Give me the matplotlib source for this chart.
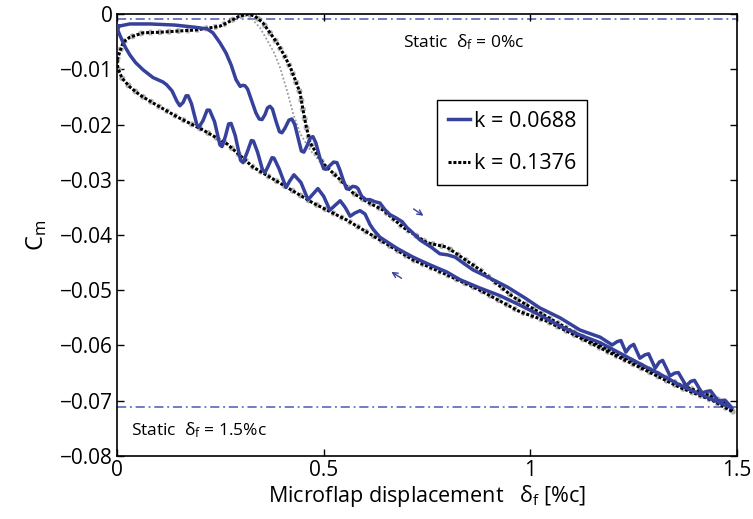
import matplotlib
matplotlib.use("Agg")
import matplotlib.pyplot as plt

plt.rcParams['font.family'] = ['Open Sans', 'DejaVu Sans']
plt.rcParams['mathtext.fontset'] = 'custom'
plt.rcParams['mathtext.rm'] = 'Open Sans'
plt.rcParams['mathtext.it'] = 'Open Sans'
plt.rcParams['axes.unicode_minus'] = True

# ---- k = 0.0688 : increasing deflection (upper branch) ----
k1_up_x = [0.004, 0.031, 0.080, 0.140, 0.189, 0.218, 0.232, 0.249, 0.264, 0.276, 0.288,
           0.298, 0.304, 0.310, 0.316, 0.322, 0.336, 0.344, 0.351, 0.358, 0.364, 0.370,
           0.376, 0.385, 0.393, 0.399, 0.406, 0.416, 0.423, 0.430, 0.438, 0.446, 0.452,
           0.460, 0.468, 0.474, 0.481, 0.491, 0.500, 0.506, 0.514, 0.524, 0.532, 0.539,
           0.547, 0.555, 0.561, 0.570, 0.578, 0.583, 0.592, 0.602, 0.612, 0.625, 0.636,
           0.648, 0.660, 0.675, 0.690, 0.702, 0.714, 0.733, 0.760, 0.781, 0.800, 0.818,
           0.840, 0.861, 0.902, 0.944, 0.987, 1.023, 1.072, 1.120, 1.169, 1.198, 1.210,
           1.219, 1.231, 1.241, 1.250, 1.265, 1.277, 1.286, 1.302, 1.312, 1.320, 1.338,
           1.349, 1.358, 1.377, 1.388, 1.397, 1.415, 1.427, 1.436, 1.454, 1.471, 1.488]
k1_up_y = [-0.0022, -0.0018, -0.0018, -0.0020, -0.0024, -0.0027, -0.0034, -0.0052, -0.0071,
           -0.0092, -0.0119, -0.0131, -0.0129, -0.0130, -0.0136, -0.0149, -0.0179, -0.0190,
           -0.0191, -0.0182, -0.0170, -0.0167, -0.0172, -0.0195, -0.0213, -0.0215, -0.0207,
           -0.0192, -0.0190, -0.0200, -0.0224, -0.0248, -0.0250, -0.0238, -0.0224, -0.0222,
           -0.0233, -0.0261, -0.0280, -0.0281, -0.0275, -0.0268, -0.0269, -0.0282, -0.0300,
           -0.0316, -0.0317, -0.0312, -0.0313, -0.0316, -0.0330, -0.0336, -0.0336, -0.0340,
           -0.0342, -0.0354, -0.0363, -0.0369, -0.0376, -0.0387, -0.0395, -0.0409, -0.0422,
           -0.0434, -0.0436, -0.0440, -0.0452, -0.0463, -0.0478, -0.0494, -0.0514, -0.0532,
           -0.0550, -0.0572, -0.0585, -0.0599, -0.0593, -0.0591, -0.0612, -0.0602, -0.0598,
           -0.0623, -0.0617, -0.0615, -0.0641, -0.0630, -0.0627, -0.0655, -0.0650, -0.0649,
           -0.0673, -0.0665, -0.0663, -0.0686, -0.0683, -0.0682, -0.0700, -0.0699, -0.0713]

# ---- k = 0.0688 : decreasing deflection (lower branch) ----
k1_dn_x = [1.488, 1.459, 1.410, 1.362, 1.314, 1.265, 1.217, 1.169, 1.120, 1.072, 1.023,
           0.975, 0.927, 0.878, 0.830, 0.798, 0.757, 0.716, 0.677, 0.636, 0.620, 0.612,
           0.600, 0.588, 0.576, 0.564, 0.552, 0.540, 0.528, 0.515, 0.500, 0.486, 0.474,
           0.462, 0.445, 0.428, 0.418, 0.409, 0.392, 0.380, 0.375, 0.366, 0.358, 0.352,
           0.340, 0.330, 0.325, 0.315, 0.305, 0.299, 0.286, 0.276, 0.270, 0.262, 0.254,
           0.249, 0.236, 0.224, 0.218, 0.208, 0.198, 0.193, 0.180, 0.172, 0.167, 0.160,
           0.152, 0.145, 0.133, 0.120, 0.111, 0.087, 0.063, 0.045, 0.031, 0.020, 0.012,
           0.005, 0.002, 0.004]
k1_dn_y = [-0.0713, -0.0704, -0.0688, -0.0672, -0.0652, -0.0633, -0.0614, -0.0595, -0.0581,
           -0.0565, -0.0545, -0.0527, -0.0510, -0.0496, -0.0481, -0.0467, -0.0454, -0.0440,
           -0.0424, -0.0404, -0.0390, -0.0381, -0.0362, -0.0356, -0.0360, -0.0366, -0.0350,
           -0.0338, -0.0346, -0.0355, -0.0330, -0.0316, -0.0326, -0.0336, -0.0305, -0.0291,
           -0.0302, -0.0314, -0.0280, -0.0261, -0.0260, -0.0275, -0.0287, -0.0282, -0.0250,
           -0.0230, -0.0229, -0.0250, -0.0269, -0.0265, -0.0220, -0.0198, -0.0199, -0.0222,
           -0.0240, -0.0237, -0.0195, -0.0174, -0.0174, -0.0193, -0.0205, -0.0200, -0.0162,
           -0.0148, -0.0148, -0.0160, -0.0166, -0.0158, -0.0139, -0.0128, -0.0123, -0.0115,
           -0.0101, -0.0088, -0.0074, -0.0060, -0.0047, -0.0035, -0.0029, -0.0022]

# ---- k = 0.1376 : upper branch ----
k2_up_x = [0.000, 0.015, 0.031, 0.063, 0.104, 0.145, 0.189, 0.225, 0.249, 0.266, 0.293,
           0.317, 0.334, 0.353, 0.370, 0.387, 0.404, 0.419, 0.431, 0.443, 0.450, 0.457,
           0.467, 0.481, 0.498, 0.520, 0.540, 0.571, 0.605, 0.644, 0.692, 0.750, 0.798,
           0.878, 0.958, 1.040, 1.120, 1.200, 1.282, 1.362, 1.442, 1.478, 1.490]
k2_up_y = [-0.0083, -0.0051, -0.0042, -0.0034, -0.0033, -0.0031, -0.0029, -0.0025, -0.0022,
           -0.0016, -0.0005, 0.0000, -0.0004, -0.0016, -0.0034, -0.0052, -0.0074, -0.0096,
           -0.0119, -0.0143, -0.0174, -0.0201, -0.0233, -0.0250, -0.0270, -0.0286, -0.0300,
           -0.0324, -0.0340, -0.0355, -0.0386, -0.0414, -0.0422, -0.0463, -0.0512, -0.0548,
           -0.0582, -0.0611, -0.0641, -0.0671, -0.0693, -0.0708, -0.0720]

# ---- k = 0.1376 : lower branch ----
k2_dn_x = [1.490, 1.442, 1.362, 1.282, 1.200, 1.120, 1.040, 0.975, 0.878, 0.798, 0.716,
           0.636, 0.556, 0.474, 0.394, 0.329, 0.266, 0.208, 0.145, 0.087, 0.056, 0.031,
           0.012, 0.002, 0.000]
k2_dn_y = [-0.0720, -0.0700, -0.0676, -0.0646, -0.0616, -0.0586, -0.0556, -0.0539, -0.0500,
           -0.0472, -0.0445, -0.0409, -0.0373, -0.0342, -0.0306, -0.0277, -0.0235, -0.0210,
           -0.0186, -0.0161, -0.0147, -0.0132, -0.0116, -0.0098, -0.0083]

# ---- k = 0.1376 : earlier cycle, descending part ----
k2_alt_x = [0.300, 0.318, 0.329, 0.346, 0.363, 0.380, 0.394, 0.411, 0.426, 0.443, 0.467,
            0.500]
k2_alt_y = [-0.0004, -0.0003, -0.0011, -0.0025, -0.0047, -0.0070, -0.0096, -0.0138,
            -0.0180, -0.0216, -0.0246, -0.0275]

static_levels = [-0.0009, -0.0711]
x_ticks = [0, 0.5, 1, 1.5]
x_tick_labels = ['0', '0.5', '1', '1.5']
y_ticks = [-0.08, -0.07, -0.06, -0.05, -0.04, -0.03, -0.02, -0.01, 0.0]
y_tick_labels = ['\u22120.08', '\u22120.07', '\u22120.06', '\u22120.05', '\u22120.04',
                 '\u22120.03', '\u22120.02', '\u22120.01', '0']

BLUE = '#36419c'

fig = plt.figure(figsize=(7.53, 5.19), dpi=100)
ax = fig.add_axes([0.1554, 0.1214, 0.8234, 0.8516])

# static reference levels
for lvl in static_levels:
    ax.axhline(lvl, color='#4c57b5', lw=1.1, ls=(0, (6, 2.5, 1.2, 2.5)), zorder=1)

# k = 0.1376, dotted with a grey halo
k2_x = k2_up_x + k2_dn_x
k2_y = k2_up_y + k2_dn_y
ax.plot(k2_alt_x, k2_alt_y, color='#9a9a9a', lw=1.3, ls=(0, (1, 1.2)), zorder=2)
ax.plot(k2_x, k2_y, color='#b4b4b4', lw=4.2, ls=(0, (0.6, 1.0)), zorder=2)
ax.plot(k2_x, k2_y, color='black', lw=2.2, ls=(0, (1, 0.6)), zorder=3,
        label='k = 0.1376')

# k = 0.0688, solid
k1_x = k1_up_x + k1_dn_x
k1_y = k1_up_y + k1_dn_y
ax.plot(k1_x, k1_y, color=BLUE, lw=2.5, zorder=4, solid_joinstyle='round',
        label='k = 0.0688')

# direction arrows
ax.annotate('', xy=(0.747, -0.0368), xytext=(0.712, -0.0350),
            arrowprops=dict(arrowstyle='->', color=BLUE, lw=1.0,
                            mutation_scale=9))
ax.annotate('', xy=(0.658, -0.0464), xytext=(0.694, -0.0481),
            arrowprops=dict(arrowstyle='->', color=BLUE, lw=1.0,
                            mutation_scale=9))

ax.text(0.692, -0.0051, r'Static  $\mathregular{\delta_f}$ = 0%c', fontsize=12.5,
        va='center', ha='left')
ax.text(0.034, -0.0753, r'Static  $\mathregular{\delta_f}$ = 1.5%c', fontsize=12.5,
        va='center', ha='left')

ax.set_xlim(0, 1.5)
ax.set_ylim(-0.08, 0)
ax.set_xticks(x_ticks)
ax.set_xticklabels(x_tick_labels)
ax.set_yticks(y_ticks)
ax.set_yticklabels(y_tick_labels)
ax.tick_params(direction='in', top=True, right=True, length=5, width=1,
               labelsize=15, pad=3)
for sp in ax.spines.values():
    sp.set_linewidth(1.2)

ax.set_xlabel(r'Microflap displacement   $\mathregular{\delta_f}$ [%c]', fontsize=15.5,
              labelpad=1)
ax.set_ylabel(r'C$\mathregular{_m}$', fontsize=17, labelpad=8)

handles, labels = ax.get_legend_handles_labels()
leg = ax.legend(handles[::-1], labels[::-1], loc='upper left',
                bbox_to_anchor=(0.516, 0.805), fontsize=15.5, handlelength=1.05,
                handletextpad=0.15, borderpad=0.5, labelspacing=1.0,
                borderaxespad=0, fancybox=False, edgecolor='black', framealpha=1)
leg.get_frame().set_linewidth(1.0)

fig.savefig('out.png', dpi=100)
